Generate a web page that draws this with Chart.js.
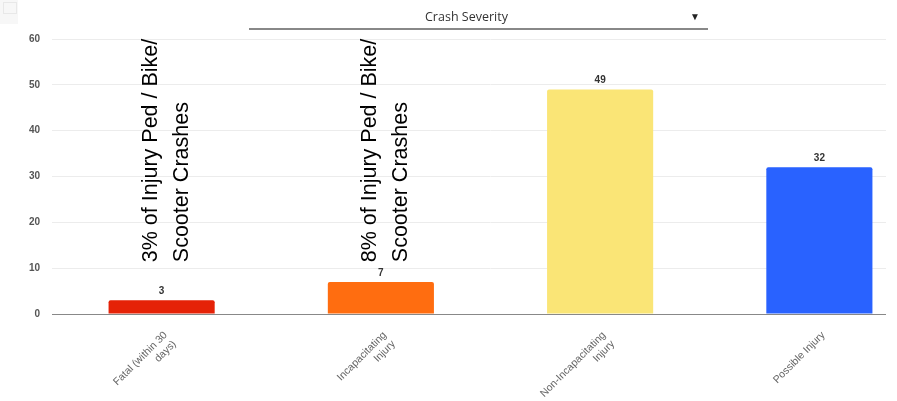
<!DOCTYPE html>
<html>
<head>
<meta charset="utf-8">
<script src="https://cdn.jsdelivr.net/npm/chart.js@4.4.1/dist/chart.umd.min.js"></script>
<style>
  html, body { margin: 0; padding: 0; background: #fff; overflow: hidden; }
  #clip { position: absolute; left: 0; top: 0; width: 886px; height: 401px; overflow: hidden; }
  #box { position: relative; width: 930px; height: 401px; }
  #select { position: absolute; left: 249px; top: 0; width: 459px; height: 28px; border-bottom: 2px solid #888;
    font: 12.5px "Open Sans", sans-serif; color: #333; }
  #select .lbl { position: absolute; left: 176px; top: 8px; }
  #select .arr { position: absolute; left: 441px; top: 9px; font-size: 10px; color: #222; }
  #icon { position: absolute; left: 0; top: 0; width: 18px; height: 24px; background: #f7f7f7; }
  #icon i { position: absolute; left: 3px; top: 2px; width: 12px; height: 10px; border: 1px solid #e8e8e8; }
</style>
</head>
<body>
<div id="clip"><div id="box"><canvas id="chart"></canvas></div></div>
<div id="icon"><i></i></div>
<div id="select"><span class="lbl">Crash Severity</span><span class="arr">▼</span></div>
<script>
const categories = [["Fatal (within 30", "days)"], ["Incapacitating", "Injury"], ["Non-Incapacitating", "Injury"], "Possible Injury"]
const counts = [3, 7, 49, 32]
const barColors = ["#e52207", "#ff6d10", "#fae576", "#2962ff"]
const notes = [
  { index: 0, lines: ["3% of Injury Ped / Bike/", "Scooter Crashes"] },
  { index: 1, lines: ["8% of Injury Ped / Bike/", "Scooter Crashes"] }
]
const yTicks = { min: 0, max: 60, step: 10 }

const valueLabels = {
  id: "valueLabels",
  afterDatasetsDraw(chart) {
    const ctx = chart.ctx
    const meta = chart.getDatasetMeta(0)
    ctx.save()
    ctx.font = "bold 10px 'Liberation Sans', Arial, sans-serif"
    ctx.fillStyle = "#333"
    ctx.textAlign = "center"
    ctx.textBaseline = "bottom"
    meta.data.forEach((bar, i) => {
      ctx.fillText(String(counts[i]), bar.x, bar.y - 4)
    })
    ctx.restore()
  }
}

const noteText = {
  id: "noteText",
  afterDraw(chart) {
    const ctx = chart.ctx
    const x = chart.scales.x
    const y = chart.scales.y
    ctx.save()
    ctx.font = "21.5px 'Liberation Sans', Arial, sans-serif"
    ctx.fillStyle = "#000"
    ctx.textAlign = "left"
    ctx.textBaseline = "alphabetic"
    notes.forEach(n => {
      const cx = x.getPixelForValue(n.index)
      const base = y.getPixelForValue(11.3)
      n.lines.forEach((line, k) => {
        ctx.save()
        ctx.translate(cx - 5 + k * 31, base)
        ctx.rotate(-Math.PI / 2)
        ctx.fillText(line, 0, 0)
        ctx.restore()
      })
    })
    ctx.restore()
  }
}

new Chart(document.getElementById("chart"), {
  type: "bar",
  data: {
    labels: categories,
    datasets: [{
      data: counts,
      backgroundColor: barColors,
      borderRadius: 2,
      categoryPercentage: 1,
      barPercentage: 0.484
    }]
  },
  options: {
    responsive: true,
    maintainAspectRatio: false,
    animation: false,
    layout: { padding: { top: 39, right: 1, left: 0, bottom: 0 } },
    plugins: { legend: { display: false }, tooltip: { enabled: false } },
    scales: {
      x: {
        grid: { display: false, drawTicks: false },
        border: { color: "#888", width: 1 },
        ticks: {
          color: "#666",
          font: { family: "'Liberation Sans', Arial, sans-serif", size: 10.5 },
          minRotation: 45,
          maxRotation: 45,
          padding: 15,
          labelOffset: 4
        },
        afterFit(scale) { scale.height = 87 }
      },
      y: {
        min: yTicks.min,
        max: yTicks.max,
        grid: { color: "#ececec", drawTicks: false },
        border: { display: false },
        ticks: {
          stepSize: yTicks.step,
          color: "#555",
          padding: 12,
          font: { family: "'Liberation Sans', Arial, sans-serif", size: 10, weight: "bold" }
        },
        afterFit(scale) { scale.width = 52 }
      }
    }
  },
  plugins: [valueLabels, noteText]
})
</script>
</body>
</html>
